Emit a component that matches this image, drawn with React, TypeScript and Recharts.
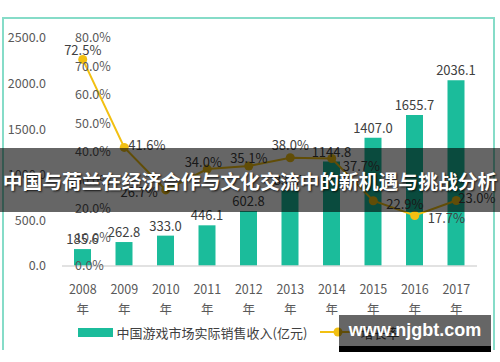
import React from 'react';
import { ComposedChart, Bar, Line, XAxis, YAxis, LabelList, Legend } from 'recharts';

const years = ['2008', '2009', '2010', '2011', '2012', '2013', '2014', '2015', '2016', '2017'];
const revenue = [185.6, 262.8, 333.0, 446.1, 602.8, 831.7, 1144.8, 1407.0, 1655.7, 2036.1];
const growth = [72.5, 41.6, 26.7, 34.0, 35.1, 38.0, 37.7, 22.9, 17.7, 23.0];
const revenueTicks = [0, 500, 1000, 1500, 2000, 2500];
const growthTicks = [0, 10, 20, 30, 40, 50, 60, 70, 80];

const barName = '中国游戏市场实际销售收入(亿元)';
const lineName = '增长率';
const titleText = '中国与荷兰在经济合作与文化交流中的新机遇与挑战分析';
const watermark = 'www.njgbt.com';

const data = years.map((y, i) => ({ year: y, revenue: revenue[i], growth: growth[i] }));

const BAR_COLOR = '#1BBC9B';
const LINE_COLOR = '#F2C012';
const FONT = '"Noto Sans CJK SC", "Noto Sans", sans-serif';

// label placement for growth labels (style only)
const growthLabelPlacement: { dx: number; dy: number; anchor: 'start' | 'middle' | 'end' }[] = [
  { dx: 0, dy: -9, anchor: 'middle' },
  { dx: 4, dy: -2, anchor: 'start' },
  { dx: -8, dy: 2, anchor: 'end' },
  { dx: -4, dy: -7, anchor: 'middle' },
  { dx: 0, dy: -8, anchor: 'middle' },
  { dx: 0, dy: -12, anchor: 'middle' },
  { dx: 11, dy: 8, anchor: 'start' },
  { dx: 13, dy: 4, anchor: 'start' },
  { dx: 13, dy: 3, anchor: 'start' },
  { dx: 2, dy: -2, anchor: 'start' },
];

const renderGrowthLabel = (props: any) => {
  const { x, y, value, index } = props;
  const p = growthLabelPlacement[index] || { dx: 0, dy: -10, anchor: 'middle' };
  return (
    <text
      x={x + p.dx}
      y={y + p.dy + 4.6}
      textAnchor={p.anchor}
      fontSize={13}
      fill="#404040"
      fontFamily={FONT}
    >
      {Number(value).toFixed(1)}%
    </text>
  );
};

const YearTick = (props: any) => {
  const { x, y, payload } = props;
  return (
    <g transform={`translate(${x},${y})`}>
      <text textAnchor="middle" fill="#595959" fontSize={12.5} fontFamily={FONT}>
        <tspan x={0} y={28}>{payload.value}</tspan>
        <tspan x={0} y={48}>年</tspan>
      </text>
    </g>
  );
};

const renderLegend = () => (
  <div
    style={{
      display: 'flex',
      justifyContent: 'center',
      alignItems: 'center',
      height: 24,
      fontFamily: FONT,
      fontSize: 13,
      color: '#404040',
    }}
  >
    <div style={{ display: 'flex', alignItems: 'center', marginRight: 13 }}>
      <div style={{ width: 35, height: 9, background: BAR_COLOR, marginRight: 4 }} />
      <span>{barName}</span>
    </div>
    <div style={{ display: 'flex', alignItems: 'center' }}>
      <svg width={36} height={12} style={{ marginRight: 4 }}>
        <line x1={0} y1={6} x2={36} y2={6} stroke={LINE_COLOR} strokeWidth={2} />
        <circle cx={18} cy={6} r={4.5} fill={LINE_COLOR} />
      </svg>
      <span>{lineName}</span>
    </div>
  </div>
);

export default function App() {
  return (
    <div
      style={{
        position: 'absolute',
        left: 0,
        top: 0,
        width: 500,
        height: 362,
        overflow: 'hidden',
        background: '#fff',
      }}
    >
      <div
        style={{
          position: 'absolute',
          left: 2,
          top: 17,
          width: 489,
          height: 331,
          borderTop: '2px solid #86DCC8',
          borderLeft: '2px solid #86DCC8',
          borderRight: '2px solid #86DCC8',
        }}
      />
      <div style={{ position: 'absolute', left: 0, top: 0 }}>
        <ComposedChart
          width={500}
          height={362}
          data={data}
          margin={{ top: 38, right: 23, left: 0, bottom: 6 }}
        >
          <XAxis
            dataKey="year"
            height={66}
            tick={<YearTick />}
            tickLine={false}
            tickSize={0}
            tickMargin={0}
            axisLine={{ stroke: '#D9D9D9', strokeWidth: 1.5 }}
            interval={0}
          />
          <YAxis
            yAxisId="rev"
            width={62}
            domain={[0, 2500]}
            ticks={revenueTicks}
            tickFormatter={(v: number) => v.toFixed(1)}
            axisLine={false}
            tickLine={false}
            tickSize={0}
            tickMargin={16}
            tick={{ fontSize: 12.5, fill: '#595959', fontFamily: FONT }}
          />
          <YAxis
            yAxisId="pct"
            orientation="left"
            mirror
            width={50}
            domain={[0, 80]}
            ticks={growthTicks}
            tickFormatter={(v: number) => `${v.toFixed(1)}%`}
            axisLine={false}
            tickLine={false}
            tickSize={0}
            tickMargin={13}
            tick={{ fontSize: 12.5, fill: '#595959', fontFamily: FONT }}
          />
          <Legend
            verticalAlign="bottom"
            content={renderLegend}
            wrapperStyle={{ bottom: 18, height: 24 }}
          />
          <Bar
            yAxisId="rev"
            dataKey="revenue"
            name={barName}
            fill={BAR_COLOR}
            barSize={17}
            isAnimationActive={false}
          >
            <LabelList
              dataKey="revenue"
              position="top"
              offset={5}
              formatter={(v: any) => Number(v).toFixed(1)}
              style={{ fontSize: 13, fill: '#404040', fontFamily: FONT }}
            />
          </Bar>
          <Line
            yAxisId="pct"
            dataKey="growth"
            name={lineName}
            stroke={LINE_COLOR}
            strokeWidth={2}
            dot={{ r: 4.5, fill: LINE_COLOR, stroke: LINE_COLOR, strokeWidth: 0 }}
            isAnimationActive={false}
          >
            <LabelList dataKey="growth" content={renderGrowthLabel} />
          </Line>
        </ComposedChart>
      </div>
      <div
        style={{
          position: 'absolute',
          left: 0,
          top: 148,
          width: 500,
          height: 64,
          background: 'rgba(0,0,0,0.6)',
          display: 'flex',
          alignItems: 'center',
          justifyContent: 'center',
          color: '#fff',
          fontFamily: FONT,
          fontWeight: 700,
          fontSize: 19.8,
          whiteSpace: 'nowrap',
          textShadow: '1px 1px 2px rgba(0,0,0,0.8)',
        }}
      >
        {titleText}
      </div>
      <div
        style={{
          position: 'absolute',
          left: 339,
          top: 315,
          width: 152,
          height: 37,
          background: 'rgba(0,0,0,0.6)',
          borderBottom: '6px solid #000',
          boxSizing: 'border-box',
          display: 'flex',
          alignItems: 'center',
          justifyContent: 'center',
          color: '#fff',
          fontFamily: '"Liberation Sans", Arial, sans-serif',
          fontWeight: 700,
          fontSize: 18,
        }}
      >
        {watermark}
      </div>
    </div>
  );
}
